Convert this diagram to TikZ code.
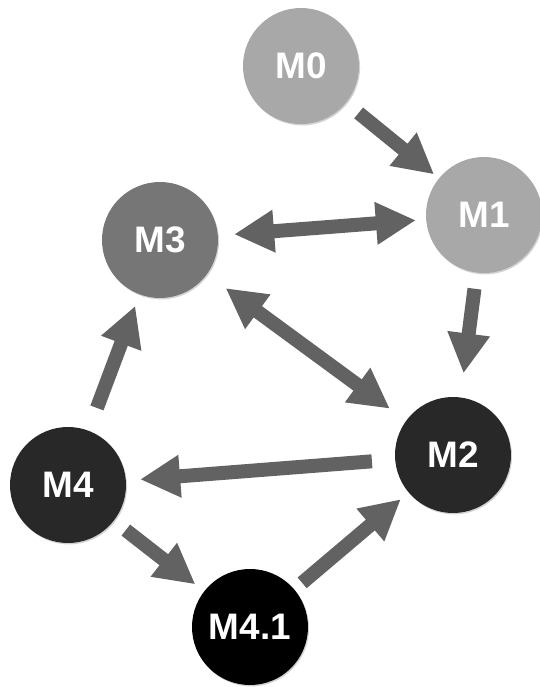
\documentclass[tikz,border=0pt]{standalone}
\usepackage{fontspec}
\setmainfont{Liberation Sans}
\usetikzlibrary{arrows.meta, shadows}
\definecolor{lightgrey}{RGB}{168, 168, 168}
\definecolor{midgrey}{RGB}{118, 118, 118}
\definecolor{darkgrey}{RGB}{40, 40, 40}
\definecolor{arrowgrey}{RGB}{98, 98, 98}

\begin{document}
\begin{tikzpicture}[
    x=0.02cm, y=-0.02cm,
    modelnode/.style={
        circle, minimum size=2.32cm, inner sep=0pt,
        text=white, font=\fontsize{21}{24}\selectfont\bfseries,
        drop shadow={opacity=0.35, shadow xshift=0.6pt, shadow yshift=-0.8pt}
    },
    flow/.style={-{Triangle[length=0.8cm, width=0.8cm]}, line width=0.28cm, draw=arrowgrey},
    twoway/.style={{Triangle[length=0.8cm, width=0.8cm]}-{Triangle[length=0.8cm, width=0.8cm]}, line width=0.28cm, draw=arrowgrey}
]

% CANVAS - same size as the reference
\useasboundingbox[fill=white] (0, 0) rectangle (539, 687);

% MODEL NODES
\node[modelnode, fill=lightgrey] at (301, 66) (m0) {M0};
\node[modelnode, fill=lightgrey] at (484, 215) (m1) {M1};
\node[modelnode, fill=midgrey] at (160, 240) (m3) {M3};
\node[modelnode, fill=darkgrey] at (453, 455) (m2) {M2};
\node[modelnode, fill=darkgrey] at (68, 485) (m4) {M4};
\node[modelnode, fill=black] at (250, 627) (m41) {M4.1};

% ARROWS
\draw[flow, shorten <=0.32cm, shorten >=0.12cm] (m0) -- (m1);
\draw[twoway, shorten <=0.2cm, shorten >=0.32cm] (m1) -- (m3);
\draw[flow, shorten <=0.32cm, shorten >=0.48cm] (m1) -- (m2);
\draw[twoway, shorten <=0.46cm, shorten >=0.4cm] (m3) -- (m2);
\draw[flow, shorten <=0.46cm, shorten >=0.28cm] (m2) -- (m4);
\draw[flow, shorten <=0.48cm, shorten >=0.24cm] (m4) -- (m3);
\draw[flow, shorten <=0.3cm, shorten >=0.22cm] (m4) -- (m41);
\draw[flow, shorten <=0.2cm, shorten >=0.2cm] (m41) -- (m2);

\end{tikzpicture}
\end{document}
